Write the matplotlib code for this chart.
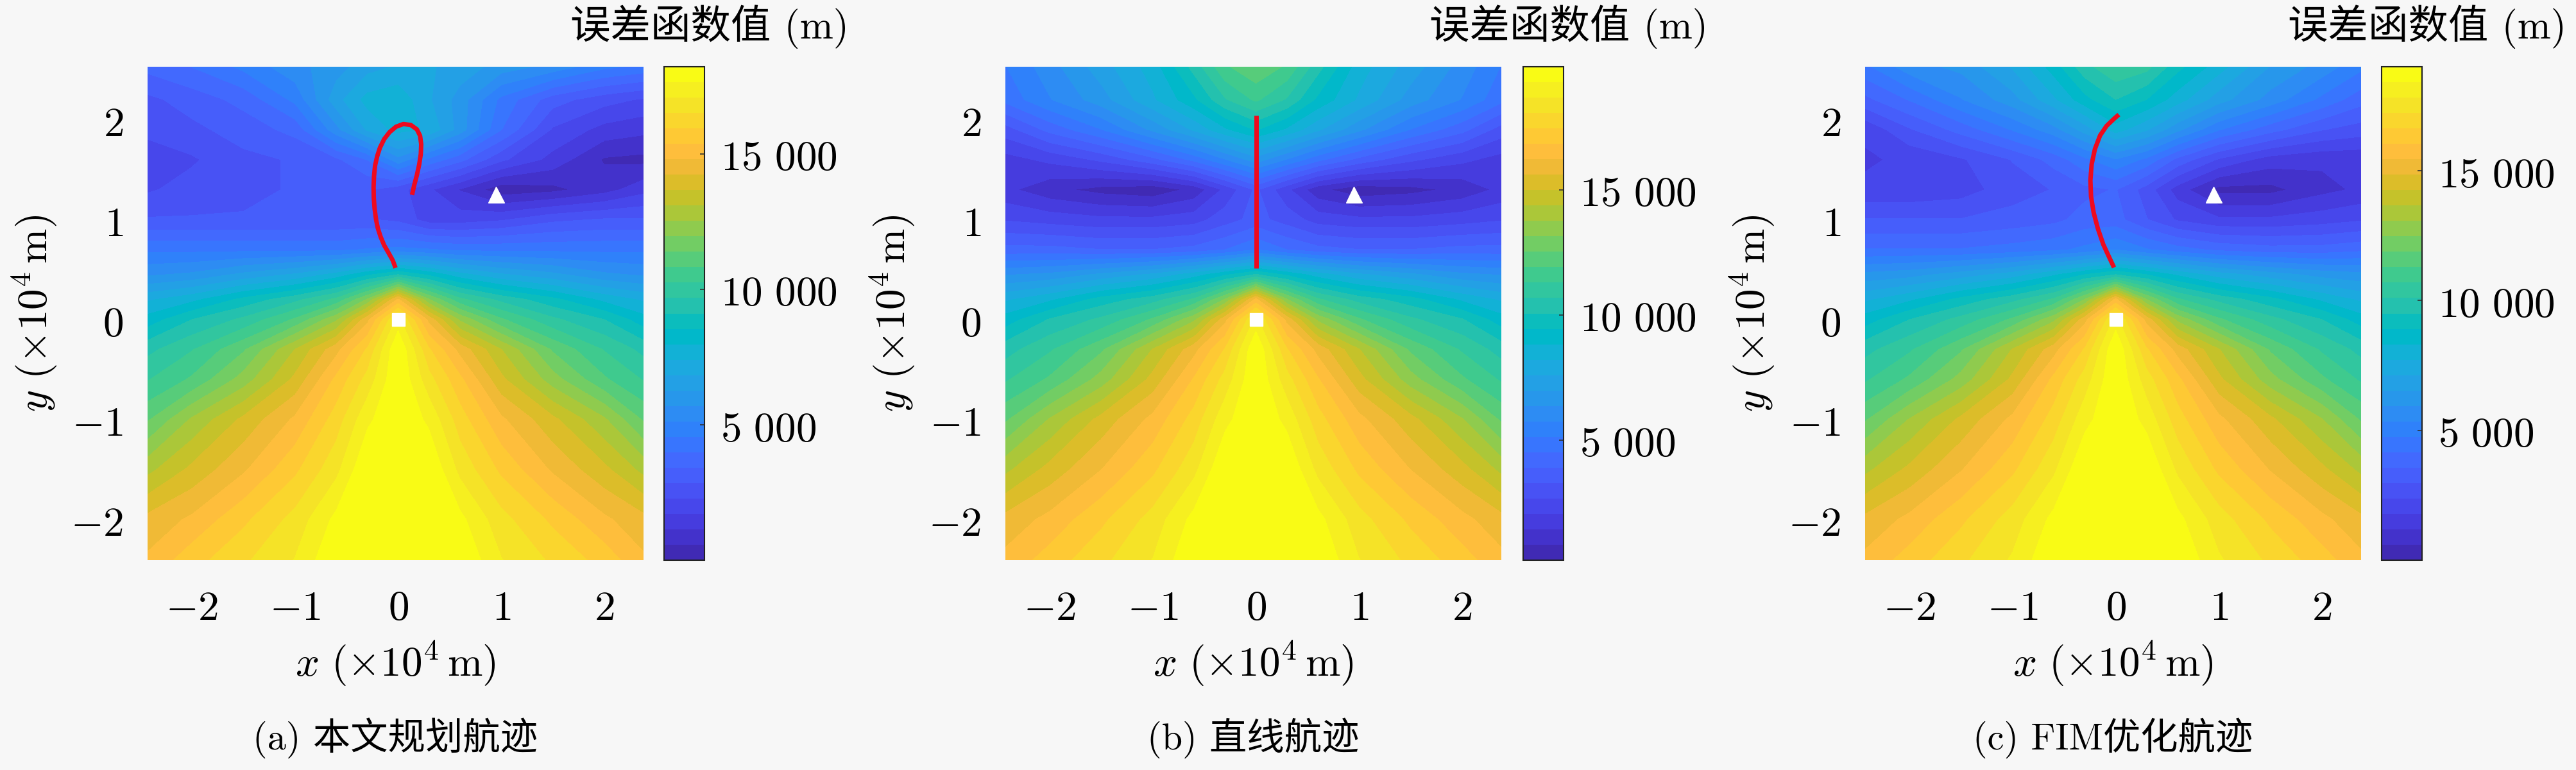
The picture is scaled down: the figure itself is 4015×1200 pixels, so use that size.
import numpy as np
import matplotlib
matplotlib.use('Agg')
import matplotlib.pyplot as plt
from matplotlib.colors import ListedColormap
from matplotlib.ticker import FuncFormatter

plt.rcParams['mathtext.fontset'] = 'cm'
plt.rcParams['font.family'] = ['Noto Sans CJK SC', 'DejaVu Sans']
mixed_font = ['cmr10', 'Noto Sans CJK SC']

x_nodes = [-2.43, -2.0, -1.5, -1.0, -0.6, -0.3, 0.0, 0.3, 0.6, 1.0, 1.5, 2.0, 2.38]
y_nodes = [-2.41, -2.0, -1.5, -1.0, -0.6, -0.3, 0.0, 0.2, 0.45, 0.7, 1.0, 1.3, 1.6, 1.9, 2.2, 2.53]

# error function values (km), one row per y node
err_a = [
    [14.9, 15.7, 16.4, 17.1, 18.2, 18.2, 18.2, 18.2, 18.2, 17.1, 16.4, 15.7, 14.9],
    [14.4, 14.9, 15.8, 16.7, 17.8, 18.2, 18.2, 18.2, 17.8, 16.7, 15.8, 14.9, 14.4],
    [12.9, 13.8, 14.7, 15.8, 16.9, 18.2, 18.2, 18.2, 16.9, 15.8, 14.7, 13.8, 12.9],
    [11.3, 12.6, 13.8, 14.9, 16.2, 17.5, 18.2, 17.5, 16.2, 14.9, 13.8, 12.6, 11.3],
    [10.2, 10.9, 12.2, 13.8, 15.5, 16.7, 18.2, 16.7, 15.5, 13.8, 12.2, 10.9, 10.2],
    [9.5, 10.2, 11.3, 13.1, 14.6, 16.0, 18.2, 16.0, 14.6, 13.1, 11.3, 10.2, 9.5],
    [8.2, 9.1, 9.8, 10.9, 12.4, 14.6, 17.3, 14.6, 12.4, 10.9, 9.8, 9.1, 8.2],
    [7.3, 7.8, 8.7, 9.5, 10.4, 12.0, 14.9, 12.0, 10.4, 9.5, 8.7, 7.8, 7.3],
    [5.6, 5.8, 6.4, 6.9, 7.6, 8.4, 9.1, 8.4, 7.6, 6.9, 6.4, 5.8, 5.6],
    [4.4, 4.4, 4.4, 4.4, 4.4, 4.6, 4.7, 4.6, 4.4, 4.4, 4.4, 4.4, 4.4],
    [2.9, 2.9, 2.9, 2.9, 2.9, 2.9, 2.7, 2.0, 2.0, 2.2, 2.7, 2.9, 2.9],
    [2.2, 2.5, 2.7, 2.9, 2.9, 2.9, 2.5, 1.8, 1.1, 0.2, 0.4, 0.9, 1.5],
    [1.8, 2.2, 2.7, 2.9, 3.3, 4.0, 5.5, 4.4, 3.6, 2.4, 1.5, 0.5, 0.4],
    [2.5, 2.7, 3.1, 3.6, 5.5, 6.9, 7.6, 7.3, 6.0, 4.0, 2.2, 1.5, 1.3],
    [2.7, 3.1, 3.6, 4.7, 6.6, 7.6, 7.8, 6.9, 6.0, 4.4, 3.1, 2.5, 2.2],
    [3.6, 4.0, 4.7, 5.5, 6.0, 6.6, 6.9, 6.9, 6.6, 6.0, 5.5, 4.7, 4.4],
]
err_b = [
    [16.4, 17.1, 17.9, 18.7, 19.9, 19.9, 19.9, 19.9, 19.9, 18.7, 17.9, 17.1, 16.4],
    [15.8, 16.4, 17.3, 18.3, 19.5, 19.9, 19.9, 19.9, 19.5, 18.3, 17.3, 16.4, 15.8],
    [14.2, 15.2, 16.2, 17.3, 18.5, 19.9, 19.9, 19.9, 18.5, 17.3, 16.2, 15.2, 14.2],
    [12.4, 13.8, 15.2, 16.4, 17.7, 19.1, 19.9, 19.1, 17.7, 16.4, 15.2, 13.8, 12.4],
    [11.2, 12.0, 13.4, 15.2, 16.9, 18.3, 19.9, 18.3, 16.9, 15.2, 13.4, 12.0, 11.2],
    [10.4, 11.2, 12.4, 14.4, 16.0, 17.5, 19.9, 17.5, 16.0, 14.4, 12.4, 11.2, 10.4],
    [9.1, 10.1, 10.8, 12.0, 13.6, 16.0, 18.9, 16.0, 13.6, 12.0, 10.8, 10.1, 9.1],
    [8.1, 8.7, 9.7, 10.4, 11.4, 13.2, 16.4, 13.2, 11.4, 10.4, 9.7, 8.7, 8.1],
    [6.3, 6.5, 7.1, 7.7, 8.5, 9.3, 10.1, 9.3, 8.5, 7.7, 7.1, 6.5, 6.3],
    [4.1, 4.1, 3.9, 3.9, 4.1, 4.5, 5.1, 4.5, 4.1, 3.9, 3.9, 4.1, 4.1],
    [2.6, 2.4, 2.2, 2.2, 2.4, 3.0, 3.5, 3.0, 2.4, 2.2, 2.2, 2.4, 2.6],
    [1.6, 1.0, 0.6, 0.4, 1.0, 2.2, 3.4, 2.2, 1.0, 0.4, 0.6, 1.0, 1.6],
    [1.8, 2.2, 2.8, 3.7, 4.7, 5.7, 6.7, 5.7, 4.7, 3.7, 2.8, 2.2, 1.8],
    [3.0, 4.1, 5.1, 6.5, 7.7, 8.7, 9.5, 8.7, 7.7, 6.5, 5.1, 4.1, 3.0],
    [4.7, 5.7, 6.7, 8.1, 9.3, 10.6, 11.4, 10.6, 9.3, 8.1, 6.7, 5.7, 4.7],
    [5.1, 6.1, 7.3, 8.5, 10.3, 11.8, 12.4, 11.8, 10.3, 8.5, 7.3, 6.1, 5.1],
]
err_c = [
    [15.6, 16.3, 17.1, 17.9, 19.0, 19.0, 19.0, 19.0, 19.0, 17.9, 17.1, 16.3, 15.6],
    [15.0, 15.6, 16.5, 17.5, 18.6, 19.0, 19.0, 19.0, 18.6, 17.5, 16.5, 15.6, 15.0],
    [13.5, 14.4, 15.4, 16.5, 17.7, 19.0, 19.0, 19.0, 17.7, 16.5, 15.4, 14.4, 13.5],
    [11.8, 13.1, 14.4, 15.6, 16.9, 18.2, 19.0, 18.2, 16.9, 15.6, 14.4, 13.1, 11.8],
    [10.6, 11.4, 12.7, 14.4, 16.2, 17.5, 19.0, 17.5, 16.2, 14.4, 12.7, 11.4, 10.6],
    [9.9, 10.6, 11.8, 13.7, 15.2, 16.7, 19.0, 16.7, 15.2, 13.7, 11.8, 10.6, 9.9],
    [8.6, 9.5, 10.3, 11.4, 12.9, 15.2, 18.1, 15.2, 12.9, 11.4, 10.3, 9.5, 8.6],
    [7.6, 8.2, 9.1, 9.9, 10.8, 12.5, 15.6, 12.5, 10.8, 9.9, 9.1, 8.2, 7.6],
    [6.1, 6.3, 6.8, 7.4, 8.2, 8.9, 9.5, 8.9, 8.2, 7.4, 6.8, 6.3, 6.1],
    [4.2, 4.2, 4.2, 4.4, 4.6, 4.9, 5.3, 4.8, 4.4, 4.0, 3.8, 3.8, 4.0],
    [3.0, 3.0, 3.0, 3.2, 3.4, 3.8, 3.8, 3.0, 2.3, 1.9, 1.9, 2.1, 2.3],
    [1.9, 1.9, 2.1, 2.7, 3.0, 3.4, 3.6, 2.7, 1.5, 0.4, 0.4, 1.0, 1.3],
    [1.7, 1.9, 2.3, 3.0, 3.8, 4.6, 5.3, 4.6, 3.4, 2.3, 1.5, 1.3, 1.3],
    [1.9, 2.9, 3.8, 4.8, 5.7, 6.8, 8.0, 7.2, 6.1, 4.8, 3.8, 3.0, 2.7],
    [3.4, 4.2, 5.3, 6.3, 7.6, 8.7, 9.5, 8.9, 8.0, 6.8, 5.7, 4.6, 3.8],
    [4.6, 5.7, 6.1, 7.2, 8.6, 9.9, 10.6, 10.3, 9.1, 8.0, 6.5, 5.7, 4.9],
]
# colour bar limits (m)
clim_a = [0, 18200]
clim_b = [200, 19900]
clim_c = [0, 19000]

# trajectories (x10^4 m)
traj_a_x = [-0.025, -0.052, -0.093, -0.135, -0.170, -0.197, -0.214, -0.228, -0.236, -0.238,
            -0.234, -0.224, -0.203, -0.176, -0.135, -0.083, -0.021, 0.052, 0.124, 0.182,
            0.213, 0.224, 0.220, 0.204, 0.181, 0.156, 0.135]
traj_a_y = [0.516, 0.591, 0.667, 0.742, 0.828, 0.914, 1.000, 1.108, 1.215, 1.323,
            1.430, 1.538, 1.634, 1.720, 1.806, 1.875, 1.929, 1.957, 1.946, 1.903,
            1.839, 1.753, 1.656, 1.548, 1.441, 1.344, 1.247]
traj_b_x = [0.0, 0.0]
traj_b_y = [0.51, 2.04]
traj_c_x = [-0.016, -0.063, -0.120, -0.173, -0.214, -0.239, -0.245, -0.233, -0.201,
            -0.151, -0.088, -0.016, 0.031]
traj_c_y = [0.520, 0.623, 0.751, 0.911, 1.072, 1.232, 1.393, 1.553, 1.707,
            1.842, 1.938, 2.009, 2.051]
receiver = (0.0, 0.0)
target = (0.95, 1.25)

captions = ['(a) 本文规划航迹', '(b) 直线航迹', '(c) FIM优化航迹']
cb_title = '误差函数值 (m)'

parula_rgb = [
    [0.2422, 0.1504, 0.6603], [0.2504, 0.1650, 0.7076], [0.2578, 0.1818, 0.7511], [0.2647, 0.1978, 0.7952],
    [0.2706, 0.2147, 0.8364], [0.2751, 0.2342, 0.8710], [0.2783, 0.2559, 0.8991], [0.2803, 0.2782, 0.9221],
    [0.2813, 0.3006, 0.9414], [0.2810, 0.3228, 0.9579], [0.2795, 0.3447, 0.9717], [0.2760, 0.3667, 0.9829],
    [0.2699, 0.3892, 0.9906], [0.2602, 0.4123, 0.9952], [0.2440, 0.4358, 0.9988], [0.2206, 0.4603, 0.9973],
    [0.1963, 0.4847, 0.9892], [0.1834, 0.5074, 0.9798], [0.1786, 0.5289, 0.9682], [0.1764, 0.5499, 0.9520],
    [0.1687, 0.5703, 0.9359], [0.1540, 0.5902, 0.9218], [0.1460, 0.6091, 0.9079], [0.1380, 0.6276, 0.8973],
    [0.1248, 0.6459, 0.8883], [0.1113, 0.6635, 0.8763], [0.0952, 0.6798, 0.8598], [0.0689, 0.6948, 0.8394],
    [0.0297, 0.7082, 0.8163], [0.0036, 0.7203, 0.7917], [0.0067, 0.7312, 0.7660], [0.0433, 0.7411, 0.7394],
    [0.0964, 0.7500, 0.7120], [0.1408, 0.7584, 0.6842], [0.1717, 0.7670, 0.6554], [0.1938, 0.7758, 0.6251],
    [0.2161, 0.7843, 0.5923], [0.2470, 0.7918, 0.5567], [0.2906, 0.7973, 0.5188], [0.3406, 0.8008, 0.4789],
    [0.3909, 0.8029, 0.4354], [0.4456, 0.8024, 0.3909], [0.5044, 0.7993, 0.3480], [0.5616, 0.7942, 0.3045],
    [0.6174, 0.7876, 0.2612], [0.6720, 0.7793, 0.2227], [0.7242, 0.7698, 0.1910], [0.7738, 0.7598, 0.1646],
    [0.8203, 0.7498, 0.1535], [0.8634, 0.7406, 0.1596], [0.9035, 0.7330, 0.1774], [0.9393, 0.7288, 0.2100],
    [0.9728, 0.7298, 0.2394], [0.9956, 0.7434, 0.2371], [0.9970, 0.7659, 0.2199], [0.9952, 0.7893, 0.2028],
    [0.9892, 0.8136, 0.1885], [0.9786, 0.8386, 0.1766], [0.9676, 0.8639, 0.1643], [0.9610, 0.8890, 0.1537],
    [0.9597, 0.9135, 0.1423], [0.9628, 0.9373, 0.1265], [0.9691, 0.9606, 0.1064], [0.9769, 0.9839, 0.0805],
]
parula = ListedColormap(parula_rgb, name='parula')

W, H = 4016, 1200
fig = plt.figure(figsize=(W / 100, H / 100), dpi=100, facecolor='#f7f7f7')

ax_left = [230, 1567, 2907]
cb_left = [1035, 2374, 3712]
ax_w, cb_w = 773, 63
ax_top, ax_bot = 104, 873

fields = [err_a, err_b, err_c]
clims = [clim_a, clim_b, clim_c]
trajs = [(traj_a_x, traj_a_y), (traj_b_x, traj_b_y), (traj_c_x, traj_c_y)]

X, Y = np.meshgrid(x_nodes, y_nodes)
math_fmt = FuncFormatter(lambda v, p: '$%g$' % v)
cb_fmt = FuncFormatter(lambda v, p: '$%d\\ %03d$' % (int(v) // 1000, int(v) % 1000))

for i in range(3):
    ax = fig.add_axes([ax_left[i] / W, 1 - ax_bot / H, ax_w / W, (ax_bot - ax_top) / H])
    Z = np.array(fields[i]) * 1000.0
    lo, hi = clims[i]
    levels = np.linspace(lo, hi + 10, 33)
    cs = ax.contourf(X, Y, Z, levels=levels, cmap=parula, antialiased=False)
    ax.plot(trajs[i][0], trajs[i][1], color='#ee0a1e', lw=5, solid_capstyle='butt', zorder=3)
    ax.plot(*receiver, 's', color='white', ms=15, mec='white', zorder=4)
    ax.plot(*target, '^', color='white', ms=18, mec='white', zorder=4)
    ax.set_xlim(-2.43, 2.38)
    ax.set_ylim(-2.41, 2.53)
    ax.set_xticks([-2, -1, 0, 1, 2])
    ax.set_yticks([-2, -1, 0, 1, 2])
    ax.xaxis.set_major_formatter(math_fmt)
    ax.yaxis.set_major_formatter(math_fmt)
    ax.tick_params(length=0, labelsize=47)
    ax.tick_params(axis='x', pad=30)
    ax.tick_params(axis='y', pad=27)
    for s in ax.spines.values():
        s.set_visible(False)

    cx = cb_left[i]
    cax = fig.add_axes([cx / W, 1 - ax_bot / H, cb_w / W, (ax_bot - ax_top) / H])
    cb = fig.colorbar(cs, cax=cax, ticks=[5000, 10000, 15000], format=cb_fmt)
    cb.outline.set_linewidth(1.5)
    cb.outline.set_edgecolor('#222222')
    cax.tick_params(direction='in', length=5, width=1.2, color='#333333', labelsize=47, pad=18)

    xc = ax_left[i] + ax_w / 2
    fig.text(xc / W, 1 - 1035 / H, '$x\\ (\\times 10^{4}\\,\\mathrm{m})$', ha='center', va='center', fontsize=47)
    fig.text((ax_left[i] - 175) / W, 1 - 488 / H, '$y\\ (\\times 10^{4}\\,\\mathrm{m})$', ha='center', va='center',
             rotation=90, fontsize=47)
    fig.text(xc / W, 1 - 1150 / H, captions[i], ha='center', va='center', fontsize=42, family=mixed_font)
    fig.text((cx + 288) / W, 1 - 42 / H, cb_title, ha='right', va='center', fontsize=45, family=mixed_font)

fig.savefig('out.png', dpi=100, facecolor=fig.get_facecolor())
